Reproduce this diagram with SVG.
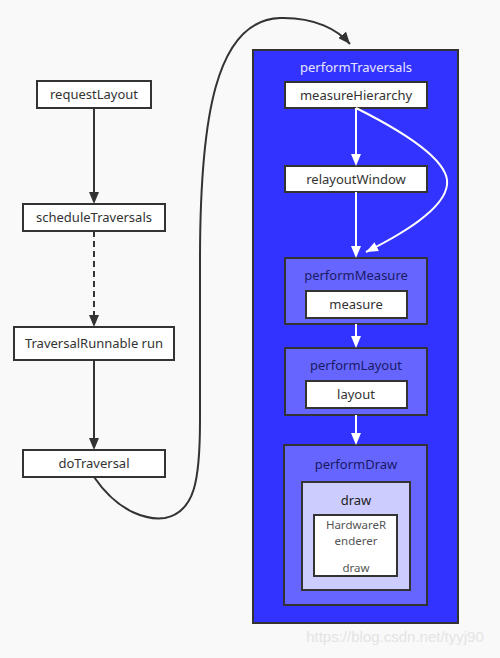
<svg xmlns="http://www.w3.org/2000/svg" width="500" height="658" viewBox="0 0 500 658">
<style>
text{font-family:"Noto Sans","Open Sans","DejaVu Sans",sans-serif;font-size:13px;text-anchor:middle}
.n{fill:#fff;stroke:#333;stroke-width:2}
.t{fill:#333}
.e{fill:none;stroke:#333;stroke-width:2}
.w{fill:none;stroke:#fff;stroke-width:2}
.g1{fill:#3333ff;stroke:#333;stroke-width:2}
.g2{fill:#6666ff;stroke:#333;stroke-width:2}
.g3{fill:#ccccff;stroke:#333;stroke-width:2}
.hr{fill:#555;font-size:11.5px}
</style>
<defs>
<marker id="adk" viewBox="0 0 12 10" refX="12" refY="5" markerWidth="12" markerHeight="10" orient="auto" markerUnits="userSpaceOnUse">
<path d="M0,0 L12,5 L0,10 Z" fill="#333"/>
</marker>
<marker id="awk" viewBox="0 0 12 10" refX="12" refY="5" markerWidth="12" markerHeight="10" orient="auto" markerUnits="userSpaceOnUse">
<path d="M0,0 L12,5 L0,10 Z" fill="#fff"/>
</marker>
</defs>
<rect width="500" height="658" fill="#f9f9f9"/>
<g id="performTraversals">
<rect class="g1" x="253" y="50" width="205" height="573"/>
<text x="356" y="72" fill="#e6e6ff">performTraversals</text>
</g>
<g id="requestLayout"><rect class="n" x="37" y="81" width="114" height="27"/><text class="t" x="94" y="99">requestLayout</text></g>
<g id="scheduleTraversals"><rect class="n" x="23" y="204" width="142" height="27"/><text class="t" x="94" y="222">scheduleTraversals</text></g>
<g id="traversalRunnable"><rect class="n" x="14" y="327" width="160" height="33"/><text class="t" x="94" y="348">TraversalRunnable run</text></g>
<g id="doTraversal"><rect class="n" x="23" y="450" width="142" height="27"/><text class="t" x="94" y="468">doTraversal</text></g>
<g id="measureHierarchy"><rect class="n" x="285" y="82" width="142" height="26"/><text class="t" x="356" y="100">measureHierarchy</text></g>
<g id="relayoutWindow"><rect class="n" x="285" y="166" width="142" height="26"/><text class="t" x="356" y="184">relayoutWindow</text></g>
<g id="performMeasure">
<rect class="g2" x="285" y="258" width="142" height="66"/>
<text x="356" y="280" fill="#1a1a66">performMeasure</text>
<g id="measure"><rect class="n" x="306" y="291" width="101" height="27"/><text class="t" x="356" y="309">measure</text></g>
</g>
<g id="performLayout">
<rect class="g2" x="285" y="348" width="142" height="67"/>
<text x="356" y="370" fill="#1a1a66">performLayout</text>
<g id="layout"><rect class="n" x="306" y="381" width="101" height="27"/><text class="t" x="356" y="399">layout</text></g>
</g>
<g id="performDraw">
<rect class="g2" x="284" y="445" width="143" height="160"/>
<text x="356" y="469" fill="#1a1a66">performDraw</text>
<g id="draw">
<rect class="g3" x="302" y="482" width="108" height="108"/>
<text x="356" y="505" fill="#222">draw</text>
<g id="hardwareRenderer">
<rect class="n" x="314" y="515" width="83" height="61"/>
<text class="hr" x="356" y="529">HardwareR</text>
<text class="hr" x="356" y="545">enderer</text>
<text class="hr" x="356" y="572">draw</text>
</g>
</g>
</g>
<g id="connectors">
<path class="e" d="M94,108 L94,192"/>
<path d="M89,192 L99,192 L94,204 Z" fill="#333"/>
<path class="e" d="M94,231 L94,315" stroke-dasharray="6,4"/>
<path d="M89,315 L99,315 L94,327 Z" fill="#333"/>
<path class="e" d="M94,360 L94,438"/>
<path d="M89,438 L99,438 L94,450 Z" fill="#333"/>
<path class="e" d="M94,477 C120,515 150,520 165,518 C195,512 200,480 200,420 L200,260 C200,120 215,20 280,18 C315,17 338,30 350,44" marker-end="url(#adk)"/>
<path class="w" d="M356,108 L356,154"/>
<path d="M351,154 L361,154 L356,166 Z" fill="#fff"/>
<path class="w" d="M356,192 L356,246"/>
<path d="M351,246 L361,246 L356,258 Z" fill="#fff"/>
<path class="w" d="M356,108 C420,140 450,165 447,185 C444,210 400,235 366,252" marker-end="url(#awk)"/>
<path class="w" d="M356,324 L356,336"/>
<path d="M351,336 L361,336 L356,348 Z" fill="#fff"/>
<path class="w" d="M356,415 L356,433"/>
<path d="M351,433 L361,433 L356,445 Z" fill="#fff"/>
</g>
<text x="395" y="642" fill="#e4e4e4" style="font-family:'Liberation Sans',Arial,sans-serif;font-size:15px">https://blog.csdn.net/tyyj90</text>
</svg>
